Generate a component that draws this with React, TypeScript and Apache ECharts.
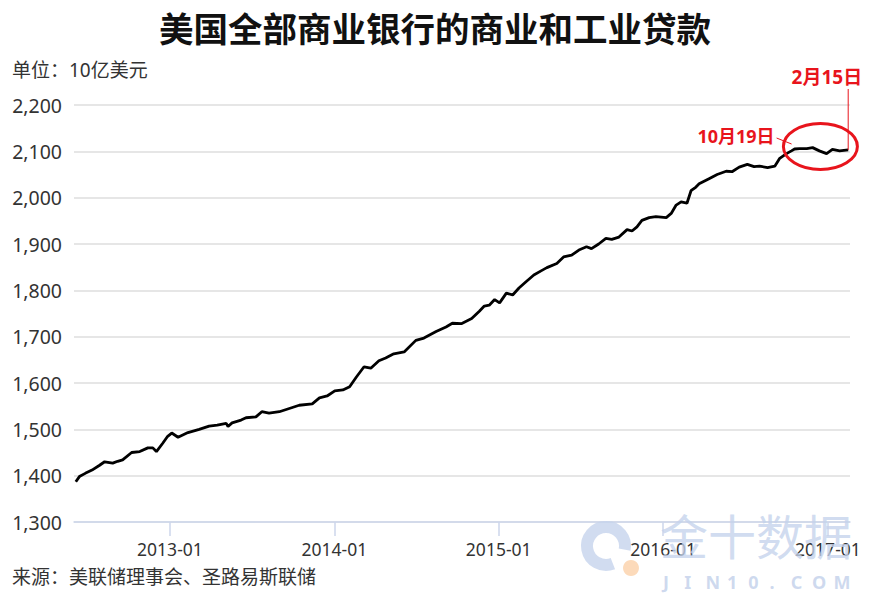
import React, { useEffect, useRef } from "react";
import * as echarts from "echarts";

const title = "美国全部商业银行的商业和工业贷款";
const unitLabel = "单位：10亿美元";
const sourceLabel = "来源：美联储理事会、圣路易斯联储";

const dates: string[] = [
  "2012-06-06", "2012-06-14", "2012-06-27", "2012-07-12", "2012-07-28", "2012-08-09", "2012-08-27",
  "2012-09-07", "2012-09-18", "2012-10-08", "2012-10-26", "2012-11-13", "2012-11-24", "2012-12-02",
  "2012-12-16", "2012-12-27", "2013-01-05", "2013-01-19", "2013-02-10", "2013-03-07", "2013-03-29",
  "2013-04-16", "2013-05-06", "2013-05-10", "2013-05-19", "2013-06-08", "2013-06-19", "2013-07-11",
  "2013-07-24", "2013-08-09", "2013-09-01", "2013-09-23", "2013-10-15", "2013-11-13", "2013-11-29",
  "2013-12-16", "2014-01-02", "2014-01-20", "2014-02-04", "2014-02-19", "2014-03-08", "2014-03-23",
  "2014-04-10", "2014-04-25", "2014-05-13", "2014-06-05", "2014-07-01", "2014-07-19", "2014-08-15",
  "2014-09-06", "2014-09-20", "2014-10-10", "2014-11-02", "2014-11-19", "2014-11-30", "2014-12-11",
  "2014-12-23", "2015-01-03", "2015-01-18", "2015-02-01", "2015-02-15", "2015-03-02", "2015-03-20",
  "2015-04-05", "2015-04-18", "2015-05-10", "2015-05-25", "2015-06-12", "2015-06-28", "2015-07-15",
  "2015-07-26", "2015-08-11", "2015-08-27", "2015-09-09", "2015-09-25", "2015-10-13", "2015-10-24",
  "2015-11-04", "2015-11-15", "2015-12-01", "2015-12-16", "2016-01-08", "2016-01-19", "2016-01-30",
  "2016-02-10", "2016-02-23", "2016-03-03", "2016-03-14", "2016-03-21", "2016-04-12", "2016-04-30",
  "2016-05-20", "2016-06-02", "2016-06-18", "2016-07-06", "2016-07-21", "2016-08-02", "2016-08-20",
  "2016-09-05", "2016-09-16", "2016-10-01", "2016-10-12", "2016-10-19", "2016-10-30", "2016-11-15",
  "2016-11-28", "2016-12-13", "2016-12-29", "2017-01-11", "2017-01-27", "2017-02-15",
];

const values: number[] = [
  1387, 1398, 1405, 1412, 1422, 1430, 1427,
  1431, 1434, 1450, 1452, 1460, 1460, 1452,
  1470, 1485, 1492, 1483, 1493, 1500, 1507,
  1509, 1513, 1506, 1514, 1520, 1525, 1527,
  1538, 1535, 1538, 1545, 1552, 1555, 1568,
  1572, 1583, 1585, 1592, 1613, 1635, 1632,
  1648, 1654, 1663, 1667, 1692, 1697, 1711,
  1721, 1729, 1728, 1739, 1755, 1766, 1768,
  1780, 1773, 1794, 1790, 1805, 1818, 1833,
  1842, 1849, 1858, 1872, 1876, 1887, 1894,
  1890, 1900, 1912, 1910, 1915, 1931, 1928,
  1937, 1951, 1957, 1959, 1957, 1966, 1984,
  1991, 1988, 2015, 2023, 2030, 2041, 2050,
  2057, 2056, 2066, 2072, 2067, 2068, 2065,
  2068, 2085, 2095, 2101, 2105, 2106, 2106,
  2108, 2101, 2095, 2104, 2101, 2103,
];

const yTicks: number[] = [1300, 1400, 1500, 1600, 1700, 1800, 1900, 2000, 2100, 2200];
const xRange: string[] = ["2012-06-02", "2017-02-19"];
const annotationA = { date: "2016-10-19", label: "10月19日" };
const annotationB = { date: "2017-02-15", label: "2月15日" };
const watermarkText = "金十数据";
const watermarkSub = "JIN10.COM";

const FONT = '"Noto Sans", "Noto Sans CJK SC", sans-serif';
const RED = "#e8141c";
const WM = "#c5d3ec";

export default function App() {
  const ref = useRef<HTMLDivElement>(null);

  useEffect(() => {
    document.body.style.margin = "0";
    if (!ref.current) return;
    const chart = echarts.init(ref.current, undefined, { renderer: "svg" });
    const seriesData = dates.map((d, i) => [d, values[i]]);

    const subChars = watermarkSub.split("").map((ch, i) => ({
      type: "text",
      left: 663 + i * 21.3,
      top: 573,
      z: 100,
      silent: true,
      style: { text: ch, fill: WM, font: `bold 18px ${FONT}`, opacity: 0.85 },
    }));

    const baseGraphics = [
      {
        type: "text",
        left: 12,
        top: 60,
        style: { text: unitLabel, fill: "#333", font: `19px ${FONT}` },
      },
      {
        type: "text",
        left: 12,
        top: 567,
        style: { text: sourceLabel, fill: "#333", font: `19px ${FONT}` },
      },
    ];

    chart.setOption({
      animation: false,
      backgroundColor: "#ffffff",
      title: {
        text: title,
        left: "center",
        top: 6,
        textStyle: { fontSize: 34.5, fontWeight: "bold", color: "#111", fontFamily: FONT },
      },
      grid: { left: 74, right: 20, top: 105, bottom: 80 },
      xAxis: {
        type: "time",
        min: xRange[0],
        max: xRange[1],
        minInterval: 365 * 24 * 3600 * 1000,
        maxInterval: 366 * 24 * 3600 * 1000,
        axisLine: { show: true, lineStyle: { color: "#ccd6eb", width: 1.5 } },
        axisTick: { show: true, length: 14, lineStyle: { color: "#ccd6eb", width: 1.5 } },
        axisLabel: {
          formatter: "{yyyy}-{MM}",
          color: "#333",
          fontSize: 17.5,
          fontFamily: FONT,
          margin: 18,
          showMinLabel: false,
          showMaxLabel: false,
        },
        splitLine: { show: false },
        minorTick: { show: false },
      },
      yAxis: {
        type: "value",
        min: yTicks[0],
        max: yTicks[yTicks.length - 1],
        interval: 100,
        axisLine: { show: false },
        axisTick: { show: false },
        axisLabel: {
          color: "#333",
          fontSize: 19.5,
          fontFamily: FONT,
          margin: 12,
          formatter: (v: number) => v.toLocaleString("en-US"),
        },
        splitLine: { lineStyle: { color: "#e6e6e6", width: 2 } },
      },
      series: [
        {
          type: "line",
          data: seriesData,
          showSymbol: false,
          symbol: "none",
          lineStyle: { color: "#000", width: 2.8 },
          z: 5,
        },
      ],
      graphic: baseGraphics,
    });

    const pA = chart.convertToPixel({ xAxisIndex: 0, yAxisIndex: 0 }, [
      annotationA.date,
      values[dates.indexOf(annotationA.date)],
    ]) as number[];
    const pB = chart.convertToPixel({ xAxisIndex: 0, yAxisIndex: 0 }, [
      annotationB.date,
      values[dates.indexOf(annotationB.date)],
    ]) as number[];

    const ecx = (pA[0] + pB[0]) / 2 - 1;
    const ecy = (pA[1] + pB[1]) / 2 - 3;

    chart.setOption({
      graphic: [
        ...baseGraphics,
        {
          type: "ellipse",
          shape: { cx: ecx, cy: ecy, rx: 37, ry: 23 },
          z: 50,
          style: { fill: "none", stroke: RED, lineWidth: 3 },
        },
        {
          type: "line",
          z: 50,
          shape: { x1: pB[0], y1: 89, x2: pB[0], y2: pB[1] },
          style: { stroke: RED, lineWidth: 1 },
        },
        {
          type: "text",
          z: 50,
          x: pB[0] + 14,
          y: 77,
          style: {
            text: annotationB.label,
            fill: RED,
            font: `bold 19px ${FONT}`,
            align: "right",
            verticalAlign: "middle",
          },
        },
        {
          type: "line",
          z: 50,
          shape: { x1: pA[0] - 18, y1: pA[1] - 11, x2: pA[0] - 3, y2: pA[1] - 5 },
          style: { stroke: RED, lineWidth: 1 },
        },
        {
          type: "text",
          z: 50,
          x: pA[0] - 20,
          y: pA[1] - 13,
          style: {
            text: annotationA.label,
            fill: RED,
            font: `bold 18px ${FONT}`,
            align: "right",
            verticalAlign: "middle",
          },
        },
        {
          type: "arc",
          z: 100,
          silent: true,
          shape: { cx: 606, cy: 546, r: 19, startAngle: 1.2, endAngle: 1.2 + Math.PI * 1.68, clockwise: true },
          style: { stroke: WM, lineWidth: 12, fill: "none", opacity: 0.8 },
        },
        {
          type: "circle",
          z: 100,
          silent: true,
          shape: { cx: 631, cy: 568, r: 8 },
          style: { fill: "#fbd3ae", opacity: 0.85 },
        },
        {
          type: "text",
          z: 100,
          silent: true,
          left: 660,
          top: 512,
          style: { text: watermarkText, fill: WM, font: `48px ${FONT}`, opacity: 0.8 },
        },
        ...subChars,
      ],
    });

    return () => chart.dispose();
  }, []);

  return <div ref={ref} style={{ width: 870, height: 602 }} />;
}
